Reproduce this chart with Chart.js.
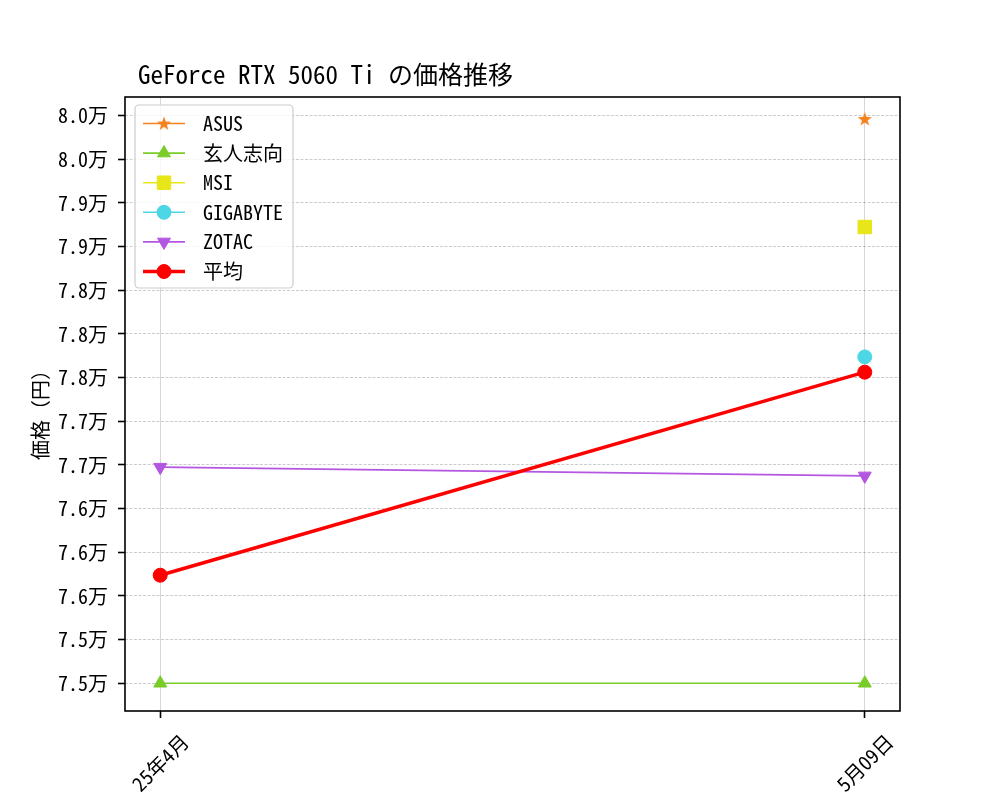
<!DOCTYPE html>
<html>
<head>
<meta charset="utf-8">
<script src="https://cdn.jsdelivr.net/npm/chart.js@4.4.0/dist/chart.umd.min.js"></script>
<style>
  body { margin: 0; background: #fff; }
  canvas { display: block; }
</style>
</head>
<body>
<canvas id="priceChart" width="1000" height="800"></canvas>
<script>
// data
const titleText = 'GeForce RTX 5060 Ti の価格推移';
const yAxisLabel = '価格（円）';
const categories = ['25年4月', '5月09日'];
const seriesNames = ['ASUS', '玄人志向', 'MSI', 'GIGABYTE', 'ZOTAC', '平均'];
const asusPrices = [null, 79970];
const kuroPrices = [74800, 74800];
const msiPrices = [null, 78980];
const gigabytePrices = [null, 77790];
const zotacPrices = [76780, 76700];
const avgPrices = [75790, 77650];
const yTickValues = [74800, 75200, 75600, 76000, 76400, 76800, 77200, 77600, 78000, 78400, 78800, 79200, 79600, 80000];
const yTickLabels = ['7.5万', '7.5万', '7.6万', '7.6万', '7.6万', '7.7万', '7.7万', '7.8万', '7.8万', '7.8万', '7.9万', '7.9万', '8.0万', '8.0万'];
const yLimits = [74546, 80171];
const xLimits = [-0.05, 1.05];

const FONT = "'Noto Sans Mono CJK JP', 'Noto Sans CJK JP', sans-serif";
Chart.defaults.font.family = FONT;
Chart.defaults.color = '#000';

// filled 5-point star for the ASUS marker
function makeStar(color) {
    const c = document.createElement('canvas');
    c.width = 16; c.height = 16;
    const g = c.getContext('2d');
    g.fillStyle = color;
    g.beginPath();
    for (let i = 0; i < 10; i++) {
        const r = i % 2 === 0 ? 7.5 : 3;
        const a = -Math.PI / 2 + i * Math.PI / 5;
        g.lineTo(8 + r * Math.cos(a), 8.5 + r * Math.sin(a));
    }
    g.closePath();
    g.fill();
    return c;
}

function series(label, values, color, style, extra) {
    return Object.assign({
        label: label,
        data: values.map((v, i) => ({ x: i, y: v })),
        borderColor: color,
        backgroundColor: color,
        pointBackgroundColor: color,
        pointBorderColor: color,
        borderWidth: 1.6,
        pointBorderWidth: 1,
        pointStyle: style,
        pointRadius: 7,
        pointHoverRadius: 7,
        tension: 0
    }, extra || {});
}

const datasets = [
    series(seriesNames[0], asusPrices, '#f5821f', makeStar('#f5821f'), { order: 6 }),
    series(seriesNames[1], kuroPrices, '#7acc29', 'triangle', { order: 5, pointRadius: 7.5 }),
    series(seriesNames[2], msiPrices, '#e6e619', 'rect', { order: 4, pointRadius: 9.5 }),
    series(seriesNames[3], gigabytePrices, '#4dd6e6', 'circle', { order: 3 }),
    series(seriesNames[4], zotacPrices, '#b357e0', 'triangle', { order: 2, pointRadius: 7.5, pointRotation: 180 }),
    series(seriesNames[5], avgPrices, '#ff0000', 'circle', { order: 1, borderWidth: 3.5 })
];

function markerAt(ctx, ds, x, y) {
    ctx.save();
    ctx.fillStyle = ds.pointBackgroundColor;
    ctx.strokeStyle = ds.pointBorderColor;
    ctx.lineWidth = ds.pointBorderWidth;
    if (Chart.helpers && Chart.helpers.drawPoint) {
        Chart.helpers.drawPoint(ctx, {
            pointStyle: ds.pointStyle,
            rotation: ds.pointRotation || 0,
            radius: ds.pointRadius,
            borderWidth: ds.pointBorderWidth
        }, x, y);
    } else {
        ctx.beginPath();
        ctx.arc(x, y, 7, 0, Math.PI * 2);
        ctx.fill();
    }
    ctx.restore();
}

// frame, title, axis label, rotated x labels and matplotlib-style legend
const decorations = {
    id: 'decorations',
    afterDraw(chart) {
        const ctx = chart.ctx;
        const area = chart.chartArea;
        const xScale = chart.scales.x;

        ctx.save();
        ctx.strokeStyle = '#000';
        ctx.lineWidth = 1.6;
        ctx.strokeRect(area.left, area.top, area.right - area.left, area.bottom - area.top);

        ctx.fillStyle = '#000';
        ctx.font = '25px ' + FONT;
        ctx.textAlign = 'left';
        ctx.textBaseline = 'alphabetic';
        ctx.fillText(titleText, 138, 84);

        ctx.font = '20px ' + FONT;
        ctx.save();
        ctx.translate(40, 410);
        ctx.rotate(-Math.PI / 2);
        ctx.textAlign = 'center';
        ctx.textBaseline = 'middle';
        ctx.fillText(yAxisLabel, 0, 0);
        ctx.restore();

        categories.forEach((label, i) => {
            const w = ctx.measureText(label).width;
            const h = (w + 20) * Math.SQRT1_2;
            ctx.save();
            ctx.translate(xScale.getPixelForValue(i), area.bottom + 20 + h / 2);
            ctx.rotate(-Math.PI / 4);
            ctx.textAlign = 'center';
            ctx.textBaseline = 'middle';
            ctx.fillText(label, 0, 0);
            ctx.restore();
        });

        // legend box
        const lx = 135, ly = 105, lw = 158, lh = 183;
        ctx.beginPath();
        ctx.roundRect(lx, ly, lw, lh, 4);
        ctx.fillStyle = 'rgba(255,255,255,0.8)';
        ctx.fill();
        ctx.strokeStyle = '#cccccc';
        ctx.lineWidth = 1.2;
        ctx.stroke();

        chart.data.datasets.forEach((ds, i) => {
            const y = 123.5 + i * 29.6;
            ctx.beginPath();
            ctx.strokeStyle = ds.borderColor;
            ctx.lineWidth = ds.borderWidth;
            ctx.moveTo(143, y);
            ctx.lineTo(185, y);
            ctx.stroke();
            markerAt(ctx, ds, 164, y);
            ctx.fillStyle = '#000';
            ctx.font = '20px ' + FONT;
            ctx.textAlign = 'left';
            ctx.textBaseline = 'middle';
            ctx.fillText(ds.label, 203, y);
        });
        ctx.restore();
    }
};

new Chart(document.getElementById('priceChart'), {
    type: 'line',
    data: { datasets: datasets },
    plugins: [decorations],
    options: {
        responsive: false,
        animation: false,
        layout: { padding: { left: 0, top: 97, right: 100, bottom: 0 } },
        plugins: {
            legend: { display: false },
            title: { display: false },
            tooltip: { enabled: false }
        },
        scales: {
            x: {
                type: 'linear',
                min: xLimits[0],
                max: xLimits[1],
                afterBuildTicks: axis => { axis.ticks = categories.map((c, i) => ({ value: i })); },
                afterFit: scale => { scale.height = 89; },
                ticks: { display: false },
                grid: { color: '#d6d6d6', lineWidth: 1, tickColor: '#000', tickLength: 7, tickWidth: 1.6 },
                border: { display: false }
            },
            y: {
                type: 'linear',
                min: yLimits[0],
                max: yLimits[1],
                afterBuildTicks: axis => { axis.ticks = yTickValues.map(v => ({ value: v })); },
                afterFit: scale => { scale.width = 125; },
                ticks: {
                    padding: 10,
                    font: { size: 20 },
                    color: '#000',
                    callback: (value, index) => yTickLabels[index]
                },
                grid: { color: 'rgba(0,0,0,0.25)', lineWidth: 0.8, tickColor: '#000', tickLength: 7, tickWidth: 1.6 },
                border: { display: false, dash: [3, 1.5] }
            }
        }
    }
});
</script>
</body>
</html>
